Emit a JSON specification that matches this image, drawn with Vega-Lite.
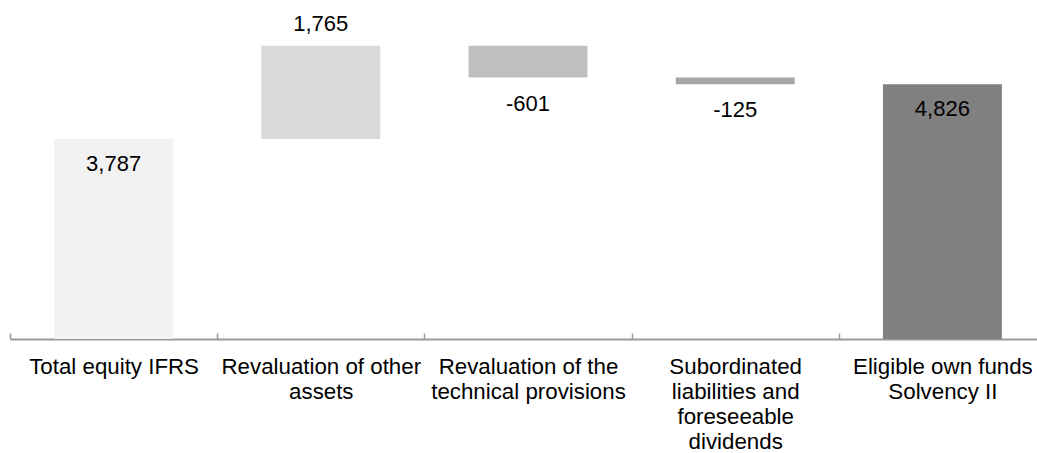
{
  "$schema": "https://vega.github.io/schema/vega-lite/v6.json",
  "width": 1027,
  "height": 339,
  "autosize": {"type": "none"},
  "padding": {"left": 10, "top": 0, "right": 0, "bottom": 114},
  "background": "white",
  "config": {
    "view": {"stroke": null},
    "font": "Liberation Sans",
    "locale": {"number": {"decimal": ".", "thousands": ",", "grouping": [3], "currency": ["$", ""], "minus": "-"}}
  },
  "data": {
    "values": [
      {"category": "Total equity IFRS", "start": 0, "end": 3787, "value": 3787, "type": "total"},
      {"category": "Revaluation of other assets", "start": 3787, "end": 5552, "value": 1765, "type": "up"},
      {"category": "Revaluation of the technical provisions", "start": 5552, "end": 4951, "value": -601, "type": "down"},
      {"category": "Subordinated liabilities and foreseeable dividends", "start": 4951, "end": 4826, "value": -125, "type": "down"},
      {"category": "Eligible own funds Solvency II", "start": 0, "end": 4826, "value": 4826, "type": "total"}
    ]
  },
  "encoding": {
    "x": {
      "field": "category",
      "type": "nominal",
      "sort": null,
      "scale": {"paddingInner": 0, "paddingOuter": 0, "range": [0, 1036]},
      "axis": {
        "title": null,
        "labelAngle": 0,
        "labelFont": "Liberation Sans",
        "labelFontSize": 22.3,
        "labelColor": "#000000",
        "labelLineHeight": 25,
        "labelBaseline": "top",
        "labelPadding": 22,
        "labelLimit": 0,
        "labelOverlap": false,
        "labelExpr": "datum.label == 'Revaluation of other assets' ? ['Revaluation of other', 'assets'] : datum.label == 'Revaluation of the technical provisions' ? ['Revaluation of the', 'technical provisions'] : datum.label == 'Subordinated liabilities and foreseeable dividends' ? ['Subordinated', 'liabilities and', 'foreseeable', 'dividends'] : datum.label == 'Eligible own funds Solvency II' ? ['Eligible own funds', 'Solvency II'] : datum.label",
        "tickBand": "extent",
        "tickSize": -6,
        "tickColor": "#9a9a9a",
        "tickWidth": 1.5,
        "domainColor": "#9a9a9a",
        "domainWidth": 2
      }
    }
  },
  "layer": [
    {
      "mark": {"type": "bar", "width": {"band": 0.574}},
      "encoding": {
        "y": {"field": "start", "type": "quantitative", "scale": {"domain": [0, 6419], "nice": false, "zero": true}, "axis": null},
        "y2": {"field": "end"},
        "color": {
          "field": "category",
          "type": "nominal",
          "sort": null,
          "scale": {
            "domain": ["Total equity IFRS", "Revaluation of other assets", "Revaluation of the technical provisions", "Subordinated liabilities and foreseeable dividends", "Eligible own funds Solvency II"],
            "range": ["#f2f2f2", "#d9d9d9", "#bfbfbf", "#a6a6a6", "#808080"]
          },
          "legend": null
        }
      }
    },
    {
      "transform": [{"filter": "datum.type == 'total'"}],
      "mark": {"type": "text", "fontSize": 22, "font": "Liberation Sans", "color": "#000000", "baseline": "alphabetic", "dy": 32},
      "encoding": {
        "y": {"field": "end", "type": "quantitative"},
        "text": {"field": "value", "type": "quantitative", "format": ",.0f"}
      }
    },
    {
      "transform": [{"filter": "datum.type == 'up'"}],
      "mark": {"type": "text", "fontSize": 22, "font": "Liberation Sans", "color": "#000000", "baseline": "alphabetic", "dy": -15},
      "encoding": {
        "y": {"field": "end", "type": "quantitative"},
        "text": {"field": "value", "type": "quantitative", "format": ",.0f"}
      }
    },
    {
      "transform": [{"filter": "datum.type == 'down'"}],
      "mark": {"type": "text", "fontSize": 22, "font": "Liberation Sans", "color": "#000000", "baseline": "alphabetic", "dy": 33},
      "encoding": {
        "y": {"field": "end", "type": "quantitative"},
        "text": {"field": "value", "type": "quantitative", "format": ",.0f"}
      }
    }
  ]
}
